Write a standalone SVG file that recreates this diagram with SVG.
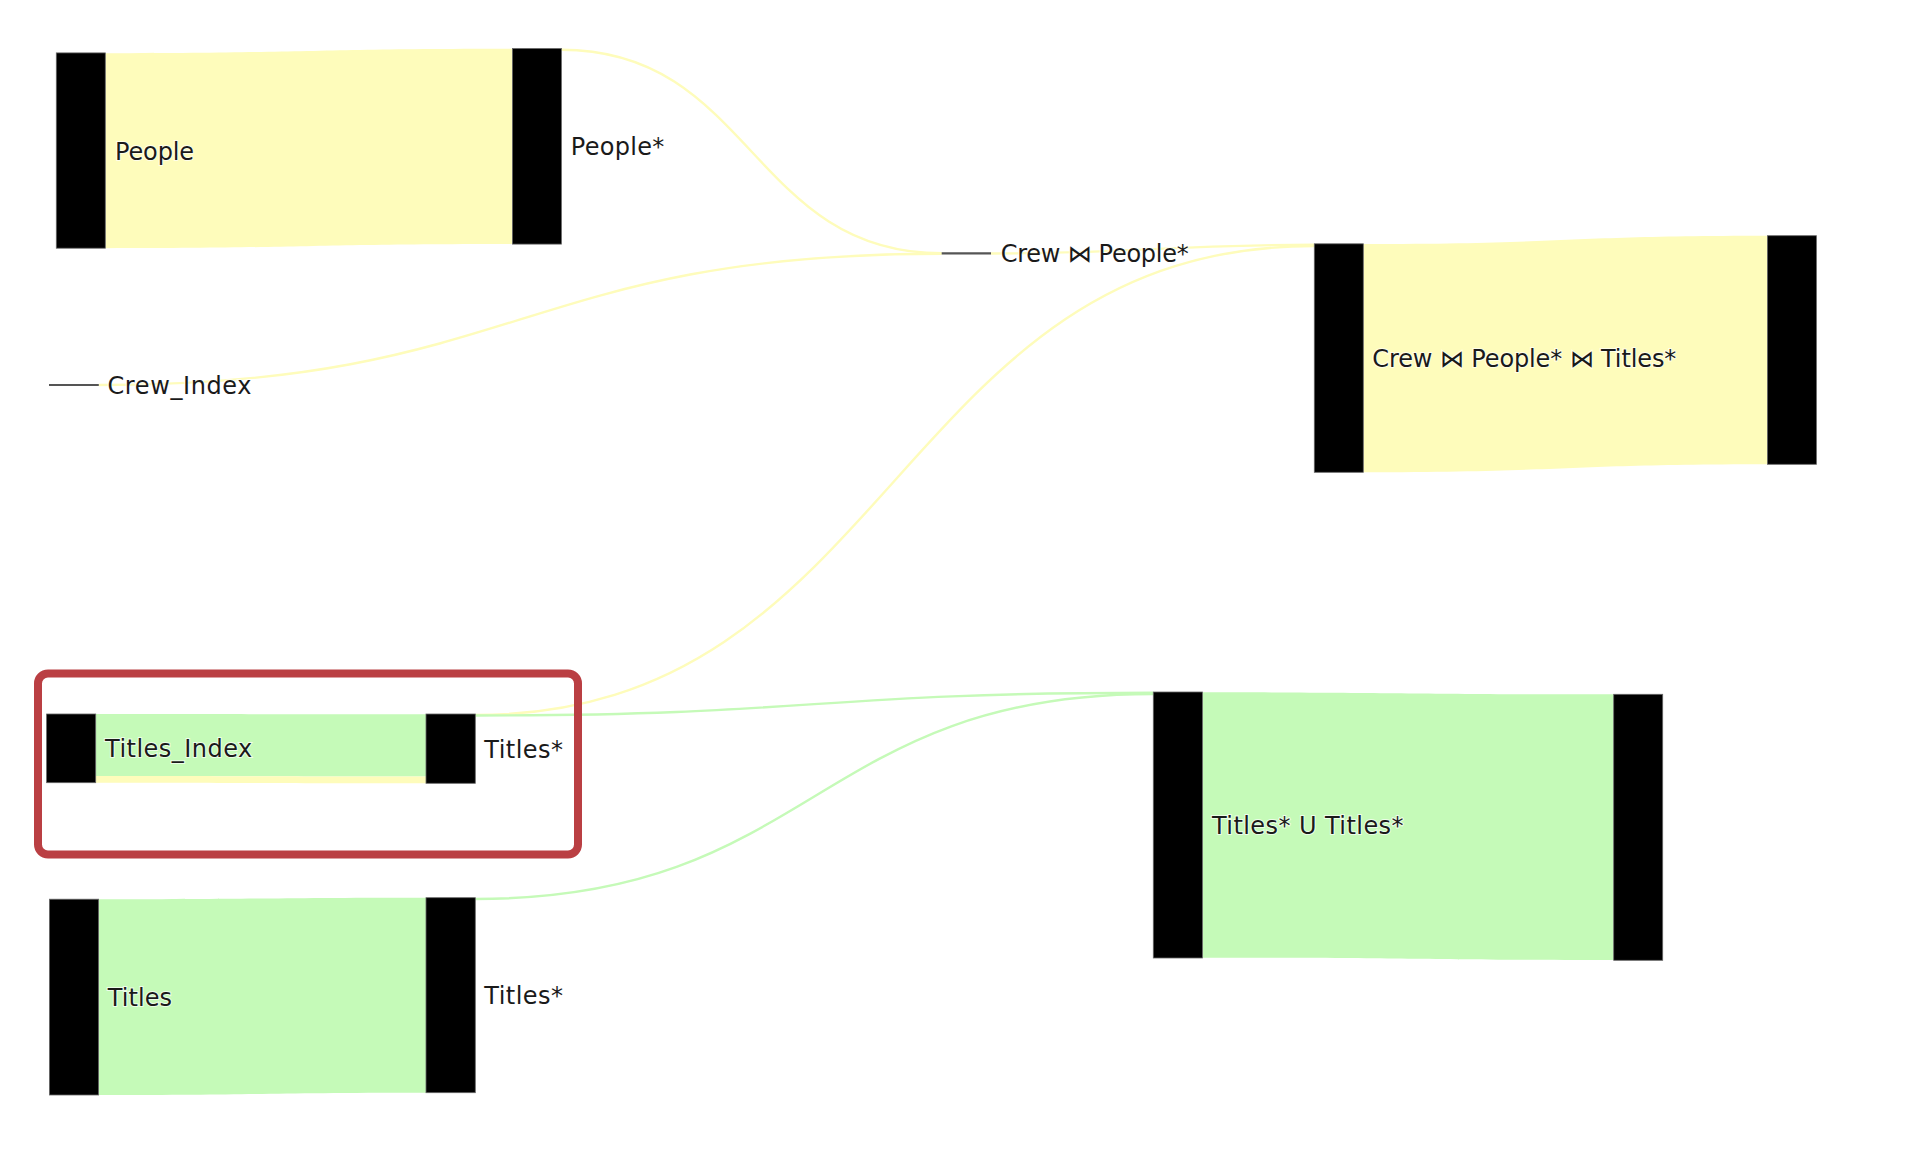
<svg xmlns="http://www.w3.org/2000/svg" width="1918" height="1160" viewBox="0 0 1918 1160">
  <style>
    .bar { fill: #000; stroke: #666; stroke-width: 0.8; }
    .zero { stroke: #555; stroke-width: 2.2; fill: none; }
    .lbl { font-family: "DejaVu Sans", Verdana, sans-serif; font-size: 24px; fill: #1a1a1a; stroke: #fff; stroke-width: 2; stroke-opacity: 0.7; paint-order: stroke; }
    .ry { fill: #FEFCBB; }
    .rg { fill: #C5FAB8; }
    .ty { fill: none; stroke: #FEFCBB; stroke-width: 2.4; }
    .tg { fill: none; stroke: #C5FAB8; stroke-width: 2.4; }
  </style>
  <rect width="1918" height="1160" fill="#fff"/>
  <g id="connectors">
    <path class="ry" d="M105.3,53.2 C308.9,53.2 308.9,48.7 512.4,48.7 L512.4,244 C308.9,244 308.9,248.2 105.3,248.2 Z"/>
    <path class="rg" d="M95.7,714 C260.9,714 260.9,714.3 426,714.3 L426,776.5 C260.9,776.5 260.9,776 95.7,776 Z"/>
    <path class="ry" d="M95.7,776 C260.9,776 260.9,776.5 426,776.5 L426,783.2 C260.9,783.2 260.9,782.7 95.7,782.7 Z"/>
    <path class="rg" d="M98.6,899.3 C262.3,899.3 262.3,897.7 426,897.7 L426,1092.7 C262.3,1092.7 262.3,1095 98.6,1095 Z"/>
    <path class="ry" d="M1363.3,244 C1565.4,244 1565.4,235.8 1767.4,235.8 L1767.4,464.3 C1565.4,464.3 1565.4,472.3 1363.3,472.3 Z"/>
    <path class="rg" d="M1202.4,692.3 C1408,692.3 1408,694.3 1613.7,694.3 L1613.7,960 C1408,960 1408,957.7 1202.4,957.7 Z"/>
    <path class="ty" d="M561.4,49.8 C751.5,49.8 751.5,253.3 941.7,253.3"/>
    <path class="ty" d="M98.8,385 C520.3,385 520.3,253.8 941.7,253.8"/>
    <path class="ty" d="M991,253.5 C1152.6,253.5 1152.6,244.8 1314.3,244.8"/>
    <path class="ty" d="M475.3,715 C894.8,715 894.8,246 1314.3,246"/>
    <path class="tg" d="M475.3,715.5 C814.3,715.5 814.3,692.8 1153.3,692.8"/>
    <path class="tg" d="M475.3,899 C814.3,899 814.3,694 1153.3,694"/>
  </g>
  <g id="node-people">
    <rect class="bar" x="56.3" y="52.9" width="49" height="195.3"/>
    <text class="lbl" x="115" y="159.5" textLength="79" lengthAdjust="spacing">People</text>
  </g>
  <g id="node-people-star">
    <rect class="bar" x="512.4" y="48.5" width="49" height="195.6"/>
    <text class="lbl" x="570.8" y="155.3" textLength="93.5" lengthAdjust="spacing">People*</text>
  </g>
  <g id="node-crew-index">
    <line class="zero" x1="49" y1="385" x2="98.8" y2="385"/>
    <text class="lbl" x="107.5" y="393.8" textLength="144" lengthAdjust="spacing">Crew_Index</text>
  </g>
  <g id="node-crew-people">
    <line class="zero" x1="941.7" y1="253.3" x2="991" y2="253.3"/>
    <text class="lbl" x="1000.7" y="262.3" textLength="188" lengthAdjust="spacing">Crew ⋈ People*</text>
  </g>
  <g id="node-crew-people-titles-in">
    <rect class="bar" x="1314.3" y="243.8" width="49" height="228.5"/>
    <text class="lbl" x="1372.3" y="367" textLength="304" lengthAdjust="spacing">Crew ⋈ People* ⋈ Titles*</text>
  </g>
  <g id="node-crew-people-titles-out">
    <rect class="bar" x="1767.4" y="235.7" width="49" height="228.6"/>
  </g>
  <g id="node-titles-index">
    <rect class="bar" x="46.6" y="714" width="49.1" height="68.7"/>
    <text class="lbl" x="105" y="757.3" textLength="147.3" lengthAdjust="spacing">Titles_Index</text>
  </g>
  <g id="node-titles-star-1">
    <rect class="bar" x="426" y="714" width="49.3" height="69.3"/>
    <text class="lbl" x="484.3" y="757.8" textLength="78.6" lengthAdjust="spacing">Titles*</text>
  </g>
  <g id="node-titles">
    <rect class="bar" x="49.4" y="899.2" width="49.2" height="195.8"/>
    <text class="lbl" x="107.8" y="1006" textLength="64.2" lengthAdjust="spacing">Titles</text>
  </g>
  <g id="node-titles-star-2">
    <rect class="bar" x="426" y="897.7" width="49.3" height="195"/>
    <text class="lbl" x="484.3" y="1004" textLength="78.6" lengthAdjust="spacing">Titles*</text>
  </g>
  <g id="node-titles-union-in">
    <rect class="bar" x="1153.3" y="692" width="49.1" height="266"/>
    <text class="lbl" x="1212" y="834" textLength="191.5" lengthAdjust="spacing">Titles* U Titles*</text>
  </g>
  <g id="node-titles-union-out">
    <rect class="bar" x="1613.7" y="694.3" width="49" height="266"/>
  </g>
  <g id="highlight">
    <rect x="38" y="673.5" width="540" height="181" rx="10" ry="10" fill="none" stroke="#BA3F43" stroke-width="8"/>
  </g>
</svg>
